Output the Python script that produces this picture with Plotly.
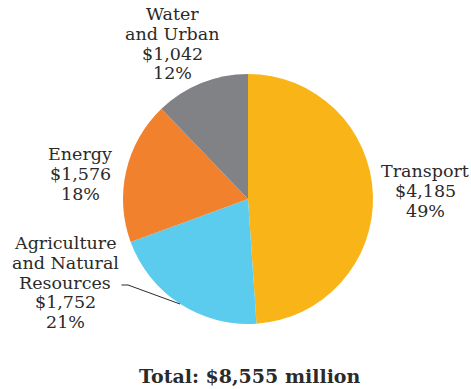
import plotly.graph_objects as go

# Sector allocations (US$ million)
sectors = ["Transport", "Agriculture and Natural Resources", "Energy", "Water and Urban"]
amounts = [4185, 1752, 1576, 1042]
shares = [49, 21, 18, 12]  # published shares, %
colors = ["#F9B418", "#5BCBEE", "#F2812E", "#808285"]

# Label text, broken over lines as displayed
label_lines = [
    ["Transport"],
    ["Agriculture", "and Natural", "Resources"],
    ["Energy"],
    ["Water", "and Urban"],
]

W, H = 471, 389
TEXT = "#2a2a2a"
FONT = "DejaVu Serif"


def px(x):
    return x / W


def py(y):
    return 1 - y / H


fig = go.Figure(
    go.Pie(
        labels=sectors,
        values=amounts,
        sort=False,
        direction="clockwise",
        rotation=0,
        marker=dict(colors=colors, line=dict(width=0)),
        textinfo="none",
        hoverinfo="label+value+percent",
        domain=dict(x=[px(123), px(373)], y=[py(324), py(74)]),
        showlegend=False,
    )
)

# Label blocks: centre x and first-line y (pixels), 20 px line pitch
label_pos = [(425, 171), (65, 243), (80, 154), (172, 14)]
LINE = 19.8

annotations = []
for lines, amt, pct, (cx, y0) in zip(label_lines, amounts, shares, label_pos):
    rows = lines + [f"${amt:,}", f"{pct}%"]
    for i, row in enumerate(rows):
        annotations.append(
            dict(
                text=row,
                x=px(cx),
                y=py(y0 + i * LINE),
                xref="paper",
                yref="paper",
                xanchor="center",
                yanchor="middle",
                showarrow=False,
                font=dict(family=FONT, size=17.5, color=TEXT),
            )
        )

total = sum(amounts)
annotations.append(
    dict(
        text=f"<b>Total: ${total:,} million</b>",
        x=px(250),
        y=py(376),
        xref="paper",
        yref="paper",
        xanchor="center",
        yanchor="middle",
        showarrow=False,
        font=dict(family=FONT, size=19, color=TEXT),
    )
)

# Leader line from the Agriculture label into its slice
leader = f"M {px(121.5)} {py(285)} L {px(128)} {py(285)} L {px(180)} {py(304)}"

fig.update_layout(
    width=W,
    height=H,
    margin=dict(l=0, r=0, t=0, b=0),
    paper_bgcolor="white",
    plot_bgcolor="white",
    annotations=annotations,
    shapes=[
        dict(
            type="path",
            path=leader,
            xref="paper",
            yref="paper",
            line=dict(color=TEXT, width=1),
        )
    ],
)

fig.write_html("out.html")
